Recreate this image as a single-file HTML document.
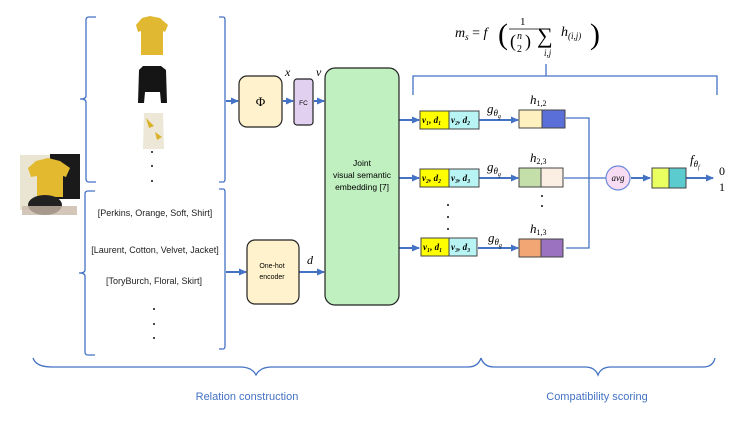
<!DOCTYPE html>
<html><head><meta charset="utf-8"><style>
body{margin:0;background:#fff}
svg{display:block}
.m{font-family:"Liberation Serif",serif;font-style:italic}
.s{font-family:"Liberation Serif",serif}
</style></head><body>
<svg width="747" height="421" viewBox="0 0 747 421" xmlns="http://www.w3.org/2000/svg" font-family="Liberation Sans, sans-serif">
<defs><marker id="a" markerWidth="8" markerHeight="8" refX="7" refY="4" orient="auto" markerUnits="userSpaceOnUse"><path d="M0,0.5 L8,4 L0,7.5z" fill="#4472c4"/></marker></defs>
<g fill="none" stroke="#4472c4" stroke-width="1.3">
<path d="M96,17 L89,17 Q86,17 86,20 L86,96 Q86,99 80,99 Q86,99 86,102 L86,179 Q86,182 89,182 L96,182"/>
<path d="M219,17 L223,17 Q225,17 225,20 L225,179 Q225,182 223,182 L219,182"/>
<path d="M95,191 L88,191 Q85,191 85,194 L85,270 Q85,273 79,273 Q85,273 85,276 L85,352 Q85,355 88,355 L95,355"/>
<path d="M219,189 L223,189 Q225,189 225,192 L225,346 Q225,349 223,349 L219,349"/>
<path d="M33,358 Q36,367 52,367 L240,367 Q252,367 256,375 Q260,367 272,367 L468,367 Q478,367 481,358"/>
<path d="M481,358 Q484,367 494,367 L585,367 Q595,367 598,375 Q601,367 611,367 L703,367 Q713,367 715,358"/>
<path d="M413,95 L413,76 L717,76 L717,95 M546,76 L546,64"/>
<path d="M566,118 L589,118 L589,248 L566,248 M564,178 L606,178"/>
</g>
<g stroke="#4472c4" stroke-width="2" fill="none" marker-end="url(#a)">
<line x1="226" y1="101" x2="238" y2="101"/>
<line x1="283" y1="101" x2="293" y2="101"/>
<line x1="314" y1="101" x2="324" y2="101"/>
<line x1="226" y1="272" x2="246" y2="272"/>
<line x1="299" y1="272" x2="324" y2="272"/>
<line x1="399" y1="120" x2="419" y2="120"/>
<line x1="399" y1="178" x2="419" y2="178"/>
<line x1="399" y1="248" x2="419" y2="248"/>
<line x1="479" y1="120" x2="518" y2="120"/>
<line x1="479" y1="178" x2="518" y2="178"/>
<line x1="478" y1="248" x2="518" y2="248"/>
<line x1="631" y1="178" x2="650" y2="178"/>
<line x1="686" y1="178" x2="713" y2="178"/>
</g>
<g>
<path d="M142,18 L150,16 L160,18 L168,25 L165,32 L163,31 L163,55 L141,55 L141,31 L138,32 L136,25z" fill="#e0b832"/>
<path d="M143,66 L161,66 L166,70 L167,103 L161,103 L160,92 L145,92 L144,103 L138,103 L139,70z" fill="#151515"/>
<path d="M144,113 L163,113 L164,149 L143,149z" fill="#ece7d6"/>
<path d="M146,118 L154,126 L149,128z M155,132 L162,137 L157,140z" fill="#d9b22a"/>
<rect x="20" y="155" width="30" height="55" fill="#eae4d2"/>
<rect x="50" y="154" width="30" height="45" fill="#1a1a1a"/>
<path d="M36,161 L48,158 L60,161 L70,168 L66,177 L63,176 L63,197 L37,197 L37,176 L31,177 L28,168z" fill="#e3b92f"/>
<ellipse cx="45" cy="205" rx="17" ry="10" fill="#222"/>
<rect x="22" y="206" width="55" height="9" fill="#c9b9a8" opacity=".8"/>
</g>
<g fill="#111"><circle cx="152" cy="152" r="1"/><circle cx="152" cy="166" r="1"/><circle cx="152" cy="181" r="1"/>
<circle cx="154" cy="309" r="1"/><circle cx="154" cy="324" r="1"/><circle cx="154" cy="338" r="1"/>
<circle cx="448" cy="205" r="1"/><circle cx="448" cy="217" r="1"/><circle cx="448" cy="229" r="1"/><circle cx="448" cy="240" r="1"/>
<circle cx="542" cy="196" r="1"/><circle cx="542" cy="206" r="1"/></g>
<rect x="239" y="76" width="43" height="51" rx="8" fill="#fff2cc" stroke="#222" stroke-width="1.2"/>
<text x="260.5" y="106" font-size="13" text-anchor="middle" class="s">Φ</text>
<rect x="294" y="79" width="19" height="46" rx="3" fill="#e2d0f0" stroke="#222" stroke-width="1.2"/>
<text x="303.5" y="105" font-size="6.5" text-anchor="middle">FC</text>
<rect x="325" y="68" width="74" height="237" rx="10" fill="#c0f0c0" stroke="#222" stroke-width="1.2"/>
<text x="362" y="166" font-size="8.5" text-anchor="middle">Joint</text>
<text x="362" y="178" font-size="8.5" text-anchor="middle">visual semantic</text>
<text x="362" y="190" font-size="8.5" text-anchor="middle">embedding [7]</text>
<rect x="247" y="240" width="52" height="64" rx="8" fill="#fff2cc" stroke="#222" stroke-width="1.2"/>
<text x="272" y="268" font-size="7" text-anchor="middle">One-hot</text>
<text x="272" y="279" font-size="7" text-anchor="middle">encoder</text>
<g font-size="9" text-anchor="middle" fill="#222">
<text x="155" y="216">[Perkins, Orange, Soft, Shirt]</text>
<text x="155" y="253">[Laurent, Cotton, Velvet, Jacket]</text>
<text x="154" y="284">[ToryBurch, Floral, Skirt]</text>
</g>
<g class="m" font-size="12"><text x="285" y="76">x</text><text x="316" y="76">v</text><text x="307" y="264">d</text></g>
<g stroke="#444" stroke-width="1">
<rect x="420" y="111" width="29" height="18" fill="#ffff00"/><rect x="449" y="111" width="30" height="18" fill="#b8f4f4"/>
<rect x="420" y="169" width="29" height="18" fill="#ffff00"/><rect x="449" y="169" width="30" height="18" fill="#b8f4f4"/>
<rect x="421" y="238" width="28" height="18" fill="#ffff00"/><rect x="449" y="238" width="28" height="18" fill="#b8f4f4"/>
<rect x="519" y="110" width="23" height="18" fill="#fff0c0"/><rect x="542" y="110" width="23" height="18" fill="#5b6fd8"/>
<rect x="519" y="168" width="22" height="19" fill="#c5dfaa"/><rect x="541" y="168" width="22" height="19" fill="#fbeee2"/>
<rect x="519" y="239" width="22" height="18" fill="#f2a673"/><rect x="541" y="239" width="22" height="18" fill="#9a72c0"/>
<rect x="652" y="168" width="17" height="20" fill="#eaff60"/><rect x="669" y="168" width="17" height="20" fill="#5ccbd0"/>
</g>
<circle cx="618" cy="178" r="12" fill="#f8dcf4" stroke="#6c8ad8" stroke-width="1.2"/>
<text x="618" y="181" class="m" font-size="9" text-anchor="middle">avg</text>
<g class="m" font-size="9" font-weight="bold">
<text x="422" y="123">v₁, d₁</text><text x="451" y="123">v₂, d₂</text>
<text x="422" y="181">v₂, d₂</text><text x="451" y="181">v₃, d₃</text>
<text x="423" y="250">v₁, d₁</text><text x="451" y="250">v₃, d₃</text>
</g>
<g class="m" font-size="13">
<text x="487" y="113">g<tspan font-size="9" dy="3">θ</tspan><tspan font-size="6" dy="2">g</tspan></text>
<text x="487" y="171">g<tspan font-size="9" dy="3">θ</tspan><tspan font-size="6" dy="2">g</tspan></text>
<text x="488" y="242">g<tspan font-size="9" dy="3">θ</tspan><tspan font-size="6" dy="2">g</tspan></text>
<text x="530" y="104">h<tspan font-size="8" dy="2" font-style="normal">1,2</tspan></text>
<text x="530" y="162">h<tspan font-size="8" dy="2" font-style="normal">2,3</tspan></text>
<text x="530" y="233">h<tspan font-size="8" dy="2" font-style="normal">1,3</tspan></text>
<text x="690" y="164">f<tspan font-size="9" dy="3">θ</tspan><tspan font-size="6" dy="2">f</tspan></text>
</g>
<g class="s" font-size="12"><text x="719" y="175">0</text><text x="719" y="191">1</text></g>
<g class="s" font-size="14">
<text x="455" y="37" class="m">m<tspan font-size="9" dy="3">s</tspan><tspan dy="-3" font-style="normal"> = </tspan>f</text>
<text x="498" y="44" font-size="30">(</text>
<text x="520" y="25" font-size="11">1</text>
<line x1="509" y1="29" x2="538" y2="29" stroke="#000" stroke-width="0.8"/>
<text x="510" y="47" font-size="18">(</text><text x="517" y="39" font-size="10" class="m">n</text><text x="517" y="52" font-size="10">2</text><text x="525" y="47" font-size="18">)</text>
<text x="537" y="43" font-size="22">∑</text>
<text x="544" y="56" font-size="9" class="m">i,j</text>
<text x="561" y="36" class="m">h<tspan font-size="9" dy="3">(i,j)</tspan></text>
<text x="590" y="44" font-size="30">)</text>
</g>
<g fill="#4472c4" font-size="11" text-anchor="middle">
<text x="247" y="400">Relation construction</text>
<text x="597" y="400">Compatibility scoring</text>
</g>
</svg>
</body></html>
